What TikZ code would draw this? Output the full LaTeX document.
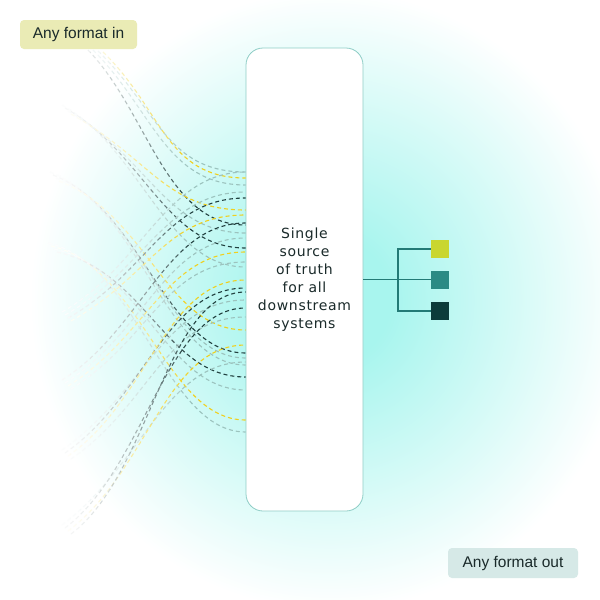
\documentclass[tikz,border=0pt]{standalone}
\usepackage{fontspec}
\setmainfont{Liberation Sans}
\newfontfamily\hubfont[LetterSpace=5]{DejaVu Sans}
\definecolor{glow}{HTML}{A8F5EE}
\definecolor{gry}{HTML}{9CC3BE}
\definecolor{yel}{HTML}{F0D01E}
\definecolor{drk}{HTML}{21403F}
\definecolor{rim}{HTML}{8ECDC6}
\definecolor{twig}{HTML}{237A76}
\definecolor{inbg}{HTML}{EAEBB5}
\definecolor{outbg}{HTML}{D6E9E7}
\definecolor{ink}{HTML}{1A2A2A}
\definecolor{lime}{HTML}{C9D62F}
\definecolor{teal}{HTML}{2B8A84}
\definecolor{deep}{HTML}{0C3C3B}
\pgfdeclareradialshading{bgglow}{\pgfpoint{0bp}{0bp}}{color(0bp)=(glow); color(5bp)=(glow); color(25bp)=(white); color(50bp)=(white)}
% all incoming lines, drawn once per fade band
\newcommand{\inwires}{
    \draw [wire = drk] (88, 50) .. controls +(60, 62) and +(-80, 0) .. (hub.west |- 0, 225);
    \draw [wire = gry] (93, 50) .. controls +(60, 60) and +(-80, 0) .. (hub.west |- 0, 185);
    \draw [wire = gry] (98, 51) .. controls +(60, 58) and +(-80, 0) .. (hub.west |- 0, 172);
    \draw [wire = yel] (103, 52) .. controls +(60, 58) and +(-80, 0) .. (hub.west |- 0, 178);
    \draw [wire = gry] (62, 105) .. controls +(80, 45) and +(-80, 0) .. (hub.west |- 0, 267);
    \draw [wire = drk] (65, 108) .. controls +(80, 45) and +(-80, 0) .. (hub.west |- 0, 248);
    \draw [wire = gry] (68, 111) .. controls +(80, 45) and +(-80, 0) .. (hub.west |- 0, 233);
    \draw [wire = yel] (71, 114) .. controls +(80, 45) and +(-80, 0) .. (hub.west |- 0, 210);
    \draw [wire = gry] (50, 172) .. controls +(90, 35) and +(-80, 0) .. (hub.west |- 0, 365);
    \draw [wire = drk] (53, 175) .. controls +(90, 35) and +(-80, 0) .. (hub.west |- 0, 353);
    \draw [wire = gry] (56, 178) .. controls +(90, 35) and +(-80, 0) .. (hub.west |- 0, 358);
    \draw [wire = yel] (59, 181) .. controls +(90, 35) and +(-80, 0) .. (hub.west |- 0, 330);
    \draw [wire = gry] (48, 243) .. controls +(90, 20) and +(-80, 0) .. (hub.west |- 0, 432);
    \draw [wire = yel] (51, 246) .. controls +(90, 20) and +(-80, 0) .. (hub.west |- 0, 420);
    \draw [wire = gry] (54, 249) .. controls +(90, 20) and +(-80, 0) .. (hub.west |- 0, 390);
    \draw [wire = drk] (57, 252) .. controls +(90, 20) and +(-80, 0) .. (hub.west |- 0, 377);
    \draw [wire = gry] (62, 312) .. controls +(80, -45) and +(-80, 0) .. (hub.west |- 0, 172);
    \draw [wire = gry] (65, 315) .. controls +(80, -45) and +(-80, 0) .. (hub.west |- 0, 192);
    \draw [wire = drk] (68, 318) .. controls +(80, -45) and +(-80, 0) .. (hub.west |- 0, 198);
    \draw [wire = yel] (71, 321) .. controls +(80, -45) and +(-80, 0) .. (hub.west |- 0, 215);
    \draw [wire = drk] (62, 380) .. controls +(80, -50) and +(-80, 0) .. (hub.west |- 0, 223);
    \draw [wire = gry] (65, 383) .. controls +(80, -50) and +(-80, 0) .. (hub.west |- 0, 238);
    \draw [wire = yel] (68, 386) .. controls +(80, -50) and +(-80, 0) .. (hub.west |- 0, 252);
    \draw [wire = gry] (71, 389) .. controls +(80, -50) and +(-80, 0) .. (hub.west |- 0, 262);
    \draw [wire = gry] (62, 450) .. controls +(80, -55) and +(-80, 0) .. (hub.west |- 0, 300);
    \draw [wire = drk] (65, 453) .. controls +(80, -55) and +(-80, 0) .. (hub.west |- 0, 288);
    \draw [wire = yel] (68, 456) .. controls +(80, -55) and +(-80, 0) .. (hub.west |- 0, 280);
    \draw [wire = gry] (71, 459) .. controls +(80, -55) and +(-80, 0) .. (hub.west |- 0, 317);
    \draw [wire = gry] (62, 525) .. controls +(80, -60) and +(-80, 0) .. (hub.west |- 0, 362);
    \draw [wire = drk] (65, 528) .. controls +(80, -60) and +(-80, 0) .. (hub.west |- 0, 308);
    \draw [wire = yel] (68, 531) .. controls +(80, -60) and +(-80, 0) .. (hub.west |- 0, 345);
    \draw [wire = drk] (71, 534) .. controls +(80, -60) and +(-80, 0) .. (hub.west |- 0, 292);
}
\begin{document}
\begin{tikzpicture}[x = 1pt, y = -1pt,
    wire/.style = {draw = #1!\fadepct!white, line width = 1.1pt, dash pattern = on 4pt off 3pt},
    tag/.style = {rounded corners = 4pt, minimum height = 29pt, text = ink, font = \fontsize{15.5}{18}\selectfont},
    outbox/.style = {minimum size = 18pt, inner sep = 0pt, fill = #1},
    branch/.style = {twig, line width = 1.3pt}]
    \useasboundingbox (0, 0) rectangle (600, 600);
    \fill [white] (0, 0) rectangle (600, 600);
    \begin{scope}
        \clip (0, 0) rectangle (600, 600);
        \shade [shading = bgglow] (330, 300) ellipse (300 and 310);
    \end{scope}
    % labels
    \node [tag, fill = inbg, minimum width = 117pt] (fmtin) at (78.5, 34.5) {Any format in};
    \node [tag, fill = outbg, minimum width = 130pt, minimum height = 30pt] (fmtout) at (513, 563) {Any format out};
    % the hub
    \node [draw = rim, fill = white, line width = 0.8pt, rounded corners = 17pt, minimum width = 117pt, minimum height = 463pt, align = center, text = ink, font = \hubfont\fontsize{14}{18}\selectfont] (hub) at (304.5, 279.5) {Single\\source\\of truth\\for all\\downstream\\systems};
    % incoming lines, fading out to the left
    \foreach \xa in {40, 50, ..., 240} {
        \pgfmathtruncatemacro{\fadepct}{100 * min(1, max(0.04, ((\xa - 35) / 150)^2))}
        \begin{scope}
            \clip (\xa, 0) rectangle (\xa + 10, 600);
            \inwires
        \end{scope}
    }
    % outputs
    \node [outbox = lime] (out1) at (440, 249) {};
    \node [outbox = teal] (out2) at (440, 280) {};
    \node [outbox = deep] (out3) at (440, 311) {};
    \coordinate (fork) at (398, 279.5);
    \draw [branch] (hub.east) -- (fork);
    \draw [branch] (out1.west) -| (fork) |- (out3.west);
    \draw [branch] (fork) -- (out2.west |- fork);
\end{tikzpicture}
\end{document}
